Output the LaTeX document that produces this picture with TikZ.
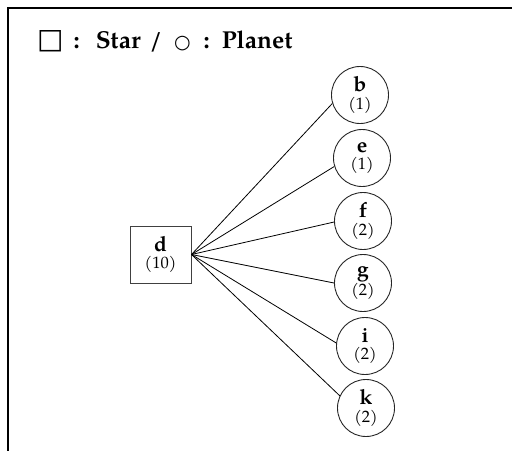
\documentclass[tikz,border=0pt]{standalone}
\usepackage{fontspec}
\setmainfont{TeX Gyre Pagella}
\newfontfamily\symfont{DejaVu Sans}
% two-line body label: bold name over a count in parentheses
\newcommand\bodylabel[2]{{\bfseries\fontsize{21}{18}\selectfont #1}\\{(#2)}}
\begin{document}
\begin{tikzpicture}[x=1pt,y=-1pt,
  body/.style={align=center,inner sep=0pt,font=\fontsize{16.5}{17.5}\selectfont},
  planet/.style={body,circle,draw=black!85,line width=0.9pt,minimum size=57pt},
  star/.style={body,rectangle,draw=black!75,line width=1pt,minimum width=61pt,minimum height=57pt},
  link/.style={draw=black,line width=0.8pt}]
\useasboundingbox (0,0) rectangle (512,451);
% frame
\draw[line width=2pt] (512,8) -- (8,8) -- (8,451);
% legend
\node[anchor=base west,inner sep=0pt,font=\fontsize{24.5}{24.5}\selectfont\bfseries] (legend) at (37,48)
  {{\symfont\mdseries\fontsize{28}{28}\selectfont □}\hspace{10pt}:\hspace{16pt}Star\hspace{9pt}/\hspace{12pt}{\symfont\mdseries\fontsize{19}{19}\selectfont ○}\hspace{13pt}:\hspace{12pt}Planet};
% star
\node[star] (d) at (160.5,254.5) {\bodylabel{d}{10}};
% planets
\node[planet] (b) at (360,95)  {\bodylabel{b}{1}};
\node[planet] (e) at (362,158) {\bodylabel{e}{1}};
\node[planet] (f) at (363,221) {\bodylabel{f}{2}};
\node[planet] (g) at (363,283) {\bodylabel{g}{2}};
\node[planet] (i) at (365,346) {\bodylabel{i}{2}};
\node[planet] (k) at (366,408) {\bodylabel{k}{2}};
% links
\draw[link] (d.east) -- (b.197);
\draw[link] (d.east) -- (e.197);
\draw[link] (d.east) -- (f.182);
\draw[link] (d.east) -- (g.180);
\draw[link] (d.east) -- (i.174);
\draw[link] (d.east) -- (k.155);
\end{tikzpicture}
\end{document}
